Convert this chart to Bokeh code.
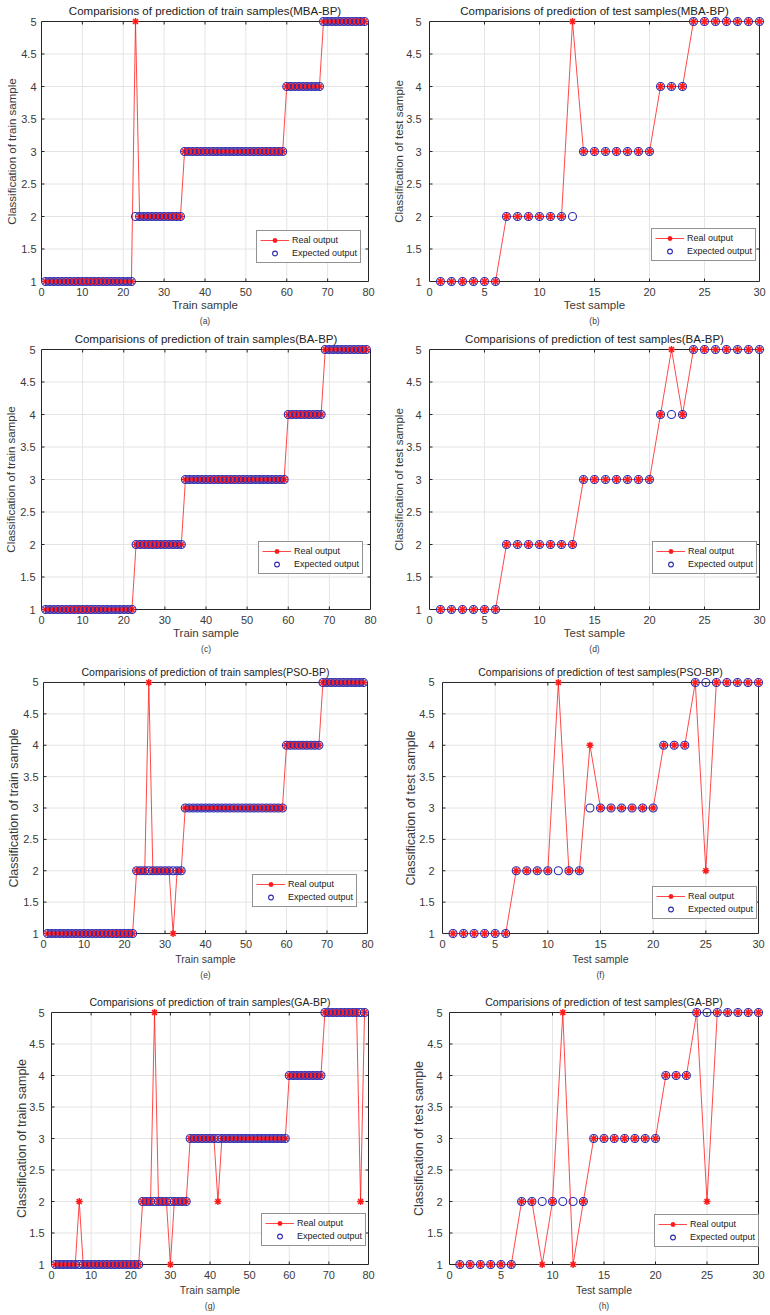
from bokeh.plotting import figure
from bokeh.layouts import column, row
from bokeh.models import (Range1d, FixedTicker, CustomJSTickFormatter, Legend,
                          LegendItem, Title)
from bokeh.embed import file_html
from bokeh.resources import INLINE

# ---------------- data ----------------
train_index = list(range(1, 80))
test_index = list(range(1, 31))

train_ticks = [0, 10, 20, 30, 40, 50, 60, 70, 80]
test_ticks = [0, 5, 10, 15, 20, 25, 30]
class_ticks = [1, 1.5, 2, 2.5, 3, 3.5, 4, 4.5, 5]

train_expected = [1, 1, 1, 1, 1, 1, 1, 1, 1, 1,
                  1, 1, 1, 1, 1, 1, 1, 1, 1, 1,
                  1, 1, 2, 2, 2, 2, 2, 2, 2, 2,
                  2, 2, 2, 2, 3, 3, 3, 3, 3, 3,
                  3, 3, 3, 3, 3, 3, 3, 3, 3, 3,
                  3, 3, 3, 3, 3, 3, 3, 3, 3, 4,
                  4, 4, 4, 4, 4, 4, 4, 4, 5, 5,
                  5, 5, 5, 5, 5, 5, 5, 5, 5]

train_real_mba = [1, 1, 1, 1, 1, 1, 1, 1, 1, 1,
                  1, 1, 1, 1, 1, 1, 1, 1, 1, 1,
                  1, 1, 5, 2, 2, 2, 2, 2, 2, 2,
                  2, 2, 2, 2, 3, 3, 3, 3, 3, 3,
                  3, 3, 3, 3, 3, 3, 3, 3, 3, 3,
                  3, 3, 3, 3, 3, 3, 3, 3, 3, 4,
                  4, 4, 4, 4, 4, 4, 4, 4, 5, 5,
                  5, 5, 5, 5, 5, 5, 5, 5, 5]

train_real_ba = [1, 1, 1, 1, 1, 1, 1, 1, 1, 1,
                 1, 1, 1, 1, 1, 1, 1, 1, 1, 1,
                 1, 1, 2, 2, 2, 2, 2, 2, 2, 2,
                 2, 2, 2, 2, 3, 3, 3, 3, 3, 3,
                 3, 3, 3, 3, 3, 3, 3, 3, 3, 3,
                 3, 3, 3, 3, 3, 3, 3, 3, 3, 4,
                 4, 4, 4, 4, 4, 4, 4, 4, 5, 5,
                 5, 5, 5, 5, 5, 5, 5, 5, 5]

train_real_pso = [1, 1, 1, 1, 1, 1, 1, 1, 1, 1,
                  1, 1, 1, 1, 1, 1, 1, 1, 1, 1,
                  1, 1, 2, 2, 2, 5, 2, 2, 2, 2,
                  2, 1, 2, 2, 3, 3, 3, 3, 3, 3,
                  3, 3, 3, 3, 3, 3, 3, 3, 3, 3,
                  3, 3, 3, 3, 3, 3, 3, 3, 3, 4,
                  4, 4, 4, 4, 4, 4, 4, 4, 5, 5,
                  5, 5, 5, 5, 5, 5, 5, 5, 5]

train_real_ga = [1, 1, 1, 1, 1, 1, 2, 1, 1, 1,
                 1, 1, 1, 1, 1, 1, 1, 1, 1, 1,
                 1, 1, 2, 2, 2, 5, 2, 2, 2, 1,
                 2, 2, 2, 2, 3, 3, 3, 3, 3, 3,
                 3, 2, 3, 3, 3, 3, 3, 3, 3, 3,
                 3, 3, 3, 3, 3, 3, 3, 3, 3, 4,
                 4, 4, 4, 4, 4, 4, 4, 4, 5, 5,
                 5, 5, 5, 5, 5, 5, 5, 2, 5]

test_expected = [1, 1, 1, 1, 1, 1, 2, 2, 2, 2,
                 2, 2, 2, 3, 3, 3, 3, 3, 3, 3,
                 4, 4, 4, 5, 5, 5, 5, 5, 5, 5]

test_real_mba = [1, 1, 1, 1, 1, 1, 2, 2, 2, 2,
                 2, 2, 5, 3, 3, 3, 3, 3, 3, 3,
                 4, 4, 4, 5, 5, 5, 5, 5, 5, 5]

test_real_ba = [1, 1, 1, 1, 1, 1, 2, 2, 2, 2,
                2, 2, 2, 3, 3, 3, 3, 3, 3, 3,
                4, 5, 4, 5, 5, 5, 5, 5, 5, 5]

test_real_pso = [1, 1, 1, 1, 1, 1, 2, 2, 2, 2,
                 5, 2, 2, 4, 3, 3, 3, 3, 3, 3,
                 4, 4, 4, 5, 2, 5, 5, 5, 5, 5]

test_real_ga = [1, 1, 1, 1, 1, 1, 2, 2, 1, 2,
                5, 1, 2, 3, 3, 3, 3, 3, 3, 3,
                4, 4, 4, 5, 2, 5, 5, 5, 5, 5]

titles = ["Comparisions of prediction of train samples(MBA-BP)",
          "Comparisions of prediction of test samples(MBA-BP)",
          "Comparisions of prediction of train samples(BA-BP)",
          "Comparisions of prediction of test samples(BA-BP)",
          "Comparisions of prediction of train samples(PSO-BP)",
          "Comparisions of prediction of test samples(PSO-BP)",
          "Comparisions of prediction of train samples(GA-BP)",
          "Comparisions of prediction of test samples(GA-BP)"]
captions = ["(a)", "(b)", "(c)", "(d)", "(e)", "(f)", "(g)", "(h)"]

# ---------------- layout (page pixels) ----------------
PAD = 5
FIG_W = 385
row_tops = [0, 326, 656, 985]
row_heights = [326, 330, 329, 330]
col_lefts = [0, 385]
# plot box: left, right, top, bottom
boxes = [(41, 368, 21, 281), (429, 759, 21, 281),
         (41, 370, 349, 609), (429, 759, 349, 609),
         (43, 367, 681, 933), (442, 758, 682, 934),
         (51, 368, 1012, 1264), (449, 758, 1012, 1264)]
legend_offsets = [(215, 18), (222, 20), (217, 35), (223, 35),
                  (209, 26), (210, 14), (210, 18), (205, 17)]
ytick_standoff = [0, 3, 1, 3, 0, 3, 2, 2]
ylabel_standoff = [0, -2, 0, -2, -1, -2, -3, -2]

FONT = "Liberation Sans"
TXT = "#3a3a3a"
AX = "#262626"
GRID = "#e4e4e4"
RED = "#ff1a1a"
BLUE = "#2a2ab0"


def build(i, x, expected, real, xticks, xlabel, ylabel):
    r, c = divmod(i, 2)
    fx, fy, fh = col_lefts[c], row_tops[r], row_heights[r]
    bl, br, bt, bb = boxes[i]
    bw, bh = br - bl, bb - bt
    xspan = xticks[-1] - xticks[0]
    yspan = class_ticks[-1] - class_ticks[0]
    xp = PAD * xspan / bw
    yp = PAD * yspan / bh
    big = r >= 2
    p = figure(width=FIG_W, height=fh,
               x_range=Range1d(xticks[0] - xp, xticks[-1] + xp),
               y_range=Range1d(class_ticks[0] - yp, class_ticks[-1] + yp),
               output_backend="svg", toolbar_location=None,
               min_border_left=bl - fx - PAD,
               min_border_right=fx + FIG_W - br - PAD,
               min_border_top=bt - fy - PAD,
               min_border_bottom=fy + fh - bb - PAD,
               title=titles[i])
    p.outline_line_color = None
    p.xgrid.grid_line_color = None
    p.ygrid.grid_line_color = None

    p.title.align = "center"
    p.title.text_font = FONT
    p.title.text_font_style = "normal"
    p.title.text_font_size = "10.5px" if big else "11.5px"
    p.title.text_color = "#222222"
    p.title.standoff = 0

    p.xaxis.ticker = FixedTicker(ticks=xticks, minor_ticks=[])
    p.yaxis.ticker = FixedTicker(ticks=class_ticks, minor_ticks=[])
    p.yaxis.formatter = CustomJSTickFormatter(code="return String(tick);")
    p.xaxis.axis_label = xlabel
    p.yaxis.axis_label = ylabel
    for ax in (p.xaxis[0], p.yaxis[0]):
        ax.axis_line_color = None
        ax.major_tick_line_color = None
        ax.minor_tick_line_color = None
        ax.major_tick_in = 0
        ax.major_tick_out = 0
        ax.major_label_text_font = FONT
        ax.major_label_text_font_size = "11px"
        ax.major_label_text_color = TXT
        ax.axis_label_text_font = FONT
        ax.axis_label_text_font_style = "normal"
        ax.axis_label_text_color = TXT
    p.xaxis[0].major_label_standoff = 1
    p.yaxis[0].major_label_standoff = ytick_standoff[i]
    p.xaxis[0].axis_label_standoff = 2 if big else 0
    p.yaxis[0].axis_label_standoff = ylabel_standoff[i]
    p.xaxis[0].axis_label_text_font_size = "10.5px" if big else "11.5px"
    p.yaxis[0].axis_label_text_font_size = "12.5px" if big else "11.5px"

    p.add_layout(Title(text=captions[i], align="center", text_font=FONT,
                       text_font_size="8.5px", text_font_style="normal",
                       text_color=TXT, standoff=0), "below")

    # grid lines inside the box
    ix = xticks[1:-1]
    iy = class_ticks[1:-1]
    p.segment(x0=ix, x1=ix, y0=[class_ticks[0]] * len(ix), y1=[class_ticks[-1]] * len(ix),
              line_color=GRID, line_width=1)
    p.segment(x0=[xticks[0]] * len(iy), x1=[xticks[-1]] * len(iy), y0=iy, y1=iy,
              line_color=GRID, line_width=1)
    # inward ticks
    tx = 3 * xspan / bw
    ty = 3 * yspan / bh
    n = len(ix)
    m = len(iy)
    p.segment(x0=ix, x1=ix, y0=[class_ticks[0]] * n, y1=[class_ticks[0] + ty] * n,
              line_color=AX, line_width=1)
    p.segment(x0=ix, x1=ix, y0=[class_ticks[-1]] * n, y1=[class_ticks[-1] - ty] * n,
              line_color=AX, line_width=1)
    p.segment(x0=[xticks[0]] * m, x1=[xticks[0] + tx] * m, y0=iy, y1=iy,
              line_color=AX, line_width=1)
    p.segment(x0=[xticks[-1]] * m, x1=[xticks[-1] - tx] * m, y0=iy, y1=iy,
              line_color=AX, line_width=1)
    # box
    p.quad(left=[xticks[0]], right=[xticks[-1]], bottom=[class_ticks[0]],
           top=[class_ticks[-1]], fill_color=None, line_color=AX, line_width=1)

    line_r = p.line(x, real, line_color=RED, line_width=0.8)
    star_r = p.scatter(x, real, marker="asterisk", size=7, line_color=RED,
                       line_width=1.4)
    circ_r = p.scatter(x, expected, marker="circle", size=8, fill_color=None,
                       line_color=BLUE, line_width=1.1)

    lx, ly = legend_offsets[i]
    legend = Legend(items=[LegendItem(label="Real output", renderers=[line_r, star_r]),
                           LegendItem(label="Expected output", renderers=[circ_r])],
                    location=(lx + PAD, ly + PAD),
                    label_text_font=FONT, label_text_font_size="9px",
                    label_text_color="#222222",
                    glyph_width=29, glyph_height=12, label_height=12,
                    label_standoff=3, padding=3, spacing=1, margin=0,
                    border_line_color=AX, border_line_width=1,
                    background_fill_color="white", background_fill_alpha=1)
    p.add_layout(legend)
    return p


pa = build(0, train_index, train_expected, train_real_mba, train_ticks,
           "Train sample", "Classification of train sample")
pb = build(1, test_index, test_expected, test_real_mba, test_ticks,
           "Test sample", "Classification of test sample")
pc = build(2, train_index, train_expected, train_real_ba, train_ticks,
           "Train sample", "Classification of train sample")
pd_ = build(3, test_index, test_expected, test_real_ba, test_ticks,
            "Test sample", "Classification of test sample")
pe = build(4, train_index, train_expected, train_real_pso, train_ticks,
           "Train sample", "Classification of train sample")
pf = build(5, test_index, test_expected, test_real_pso, test_ticks,
           "Test sample", "Classification of test sample")
pg = build(6, train_index, train_expected, train_real_ga, train_ticks,
           "Train sample", "Classification of train sample")
ph = build(7, test_index, test_expected, test_real_ga, test_ticks,
           "Test sample", "Classification of test sample")

layout = column(row(pa, pb), row(pc, pd_), row(pe, pf), row(pg, ph))

open("out.html", "w").write(file_html(layout, INLINE))
